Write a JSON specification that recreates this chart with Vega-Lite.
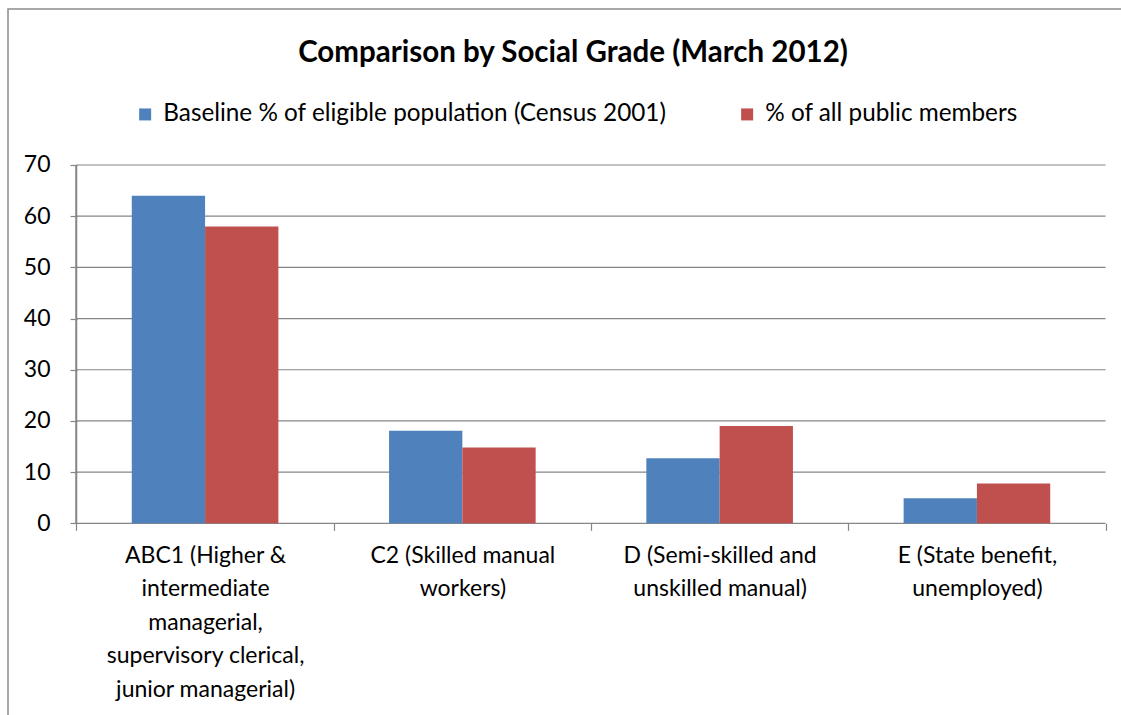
{
  "$schema": "https://vega.github.io/schema/vega-lite/v6.json",
  "width": 1166,
  "height": 720,
  "padding": {"left": 8, "top": 9, "right": 0, "bottom": 0},
  "background": "white",
  "title": {
    "text": "Comparison by Social Grade (March 2012)",
    "font": "Lato",
    "fontSize": 29.5,
    "fontWeight": "bold",
    "color": "black",
    "anchor": "middle",
    "dx": -18,
    "offset": -82,
    "baseline": "alphabetic"
  },
  "config": {
    "view": {"stroke": "#8c8c8c", "strokeWidth": 1.5},
    "font": "Lato"
  },
  "datasets": {
    "bars": [
      {"category": "ABC1 (Higher &|intermediate|managerial,|supervisory clerical,|junior managerial)", "series": "Baseline % of eligible population (Census 2001)", "value": 64},
      {"category": "ABC1 (Higher &|intermediate|managerial,|supervisory clerical,|junior managerial)", "series": "% of all public members", "value": 58},
      {"category": "C2 (Skilled manual|workers)", "series": "Baseline % of eligible population (Census 2001)", "value": 18.1},
      {"category": "C2 (Skilled manual|workers)", "series": "% of all public members", "value": 14.8},
      {"category": "D (Semi-skilled and|unskilled manual)", "series": "Baseline % of eligible population (Census 2001)", "value": 12.7},
      {"category": "D (Semi-skilled and|unskilled manual)", "series": "% of all public members", "value": 19},
      {"category": "E (State benefit,|unemployed)", "series": "Baseline % of eligible population (Census 2001)", "value": 4.9},
      {"category": "E (State benefit,|unemployed)", "series": "% of all public members", "value": 7.8}
    ],
    "grid": [{"v": 0}, {"v": 10}, {"v": 20}, {"v": 30}, {"v": 40}, {"v": 50}, {"v": 60}, {"v": 70}]
  },
  "layer": [
    {
      "data": {"name": "grid"},
      "mark": {"type": "rule", "color": "#868686", "strokeWidth": 1.2},
      "encoding": {
        "y": {"field": "v", "type": "quantitative",
              "scale": {"domain": [-40.18, 100.47], "nice": false, "zero": false},
              "axis": {
                "values": [0, 10, 20, 30, 40, 50, 60, 70], "offset": -69, "domain": false, "grid": false,
                "tickSize": 7, "tickColor": "#868686", "tickWidth": 1.2, "labelPadding": 20,
                "labelFont": "Lato", "labelFontSize": 23, "labelColor": "black", "title": null
              }},
        "x": {"datum": "ABC1 (Higher &|intermediate|managerial,|supervisory clerical,|junior managerial)", "bandPosition": 0, "type": "nominal"},
        "x2": {"datum": "E (State benefit,|unemployed)", "bandPosition": 1}
      }
    },
    {
      "data": {"name": "grid"},
      "mark": {"type": "rule", "color": "#868686", "strokeWidth": 1.2},
      "encoding": {
        "x": {"datum": "ABC1 (Higher &|intermediate|managerial,|supervisory clerical,|junior managerial)", "bandPosition": 0, "type": "nominal"},
        "y": {"datum": 0, "type": "quantitative"},
        "y2": {"datum": 70}
      }
    },
    {
      "data": {"name": "bars"},
      "mark": {"type": "bar"},
      "encoding": {
        "x": {
          "field": "category", "type": "nominal", "sort": null,
          "scale": {
            "domain": [
              "ABC1 (Higher &|intermediate|managerial,|supervisory clerical,|junior managerial)",
              "C2 (Skilled manual|workers)",
              "D (Semi-skilled and|unskilled manual)",
              "E (State benefit,|unemployed)"
            ],
            "paddingInner": 0, "paddingOuter": 0.266
          },
          "axis": {
            "orient": "bottom", "offset": -205.7, "domain": false, "grid": false,
            "tickBand": "extent", "tickSize": 7, "tickColor": "#868686", "tickWidth": 1.2,
            "labelPadding": 14, "labelAngle": 0, "labelAlign": "center", "labelFont": "Lato", "labelFontSize": 23,
            "labelColor": "black", "labelLineHeight": 33.5, "labelLimit": 400, "labelOverlap": false,
            "labelExpr": "split(datum.label, '|')", "labelBaseline": "top", "title": null
          }
        },
        "xOffset": {
          "field": "series", "type": "nominal", "sort": null,
          "scale": {"domain": ["Baseline % of eligible population (Census 2001)", "% of all public members"], "paddingInner": 0, "paddingOuter": 0.755}
        },
        "y": {"field": "value", "type": "quantitative"},
        "color": {
          "field": "series", "type": "nominal", "sort": null,
          "scale": {"domain": ["Baseline % of eligible population (Census 2001)", "% of all public members"], "range": ["#4F81BD", "#C0504D"]},
          "legend": {
            "orient": "none", "legendX": 125, "legendY": 93, "direction": "horizontal",
            "title": null, "symbolType": "square", "symbolSize": 144, "symbolStrokeWidth": 0,
            "labelFont": "Lato", "labelFontSize": 24.3, "labelColor": "black", "labelOffset": 6,
            "columnPadding": 68, "labelLimit": 700
          }
        }
      }
    }
  ]
}
